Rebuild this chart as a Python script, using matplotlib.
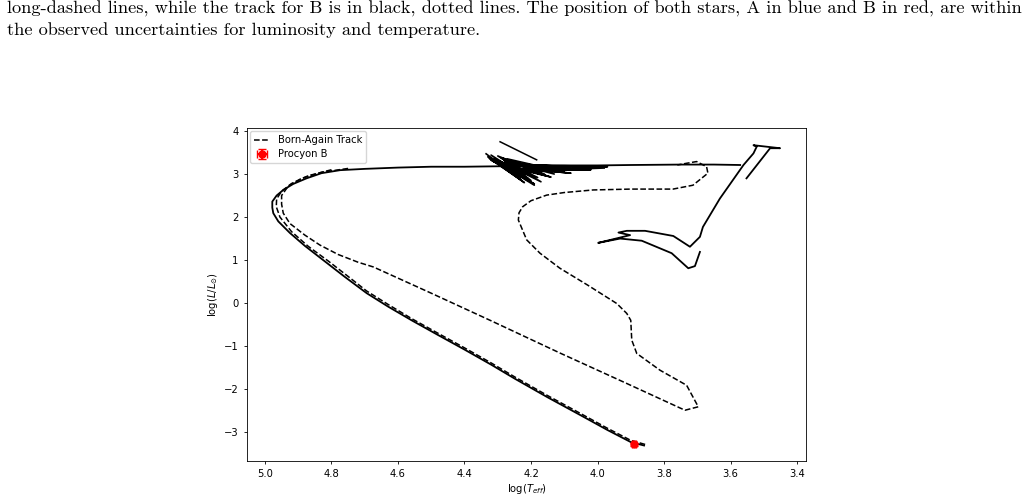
import matplotlib
matplotlib.use("Agg")
import matplotlib.pyplot as plt

# caption lines above the figure
caption_lines = [
    "long-dashed lines, while the track for B is in black, dotted lines. The position of both stars, A in blue and B in red, are within",
    "the observed uncertainties for luminosity and temperature.",
]

# pre-RGB wiggle + red giant branch (looks solid in the original)
rgb_teff = [3.692, 3.707, 3.727, 3.777, 3.867, 3.932, 3.998, 3.902, 3.937, 3.912,
            3.857, 3.772, 3.722, 3.692, 3.683, 3.632, 3.561, 3.531, 3.521, 3.531,
            3.451, 3.481, 3.552]
rgb_lum = [1.19, 0.86, 0.81, 1.16, 1.45, 1.50, 1.40, 1.58, 1.64, 1.68,
           1.68, 1.56, 1.31, 1.54, 1.77, 2.43, 3.21, 3.48, 3.64, 3.67,
           3.60, 3.60, 2.90]

# post-AGB crossing, outer loop and white dwarf cooling track
cool_teff = [3.571, 3.65, 3.75, 3.90, 4.00, 4.10, 4.20, 4.30, 4.40, 4.50, 4.60,
             4.70, 4.774, 4.83, 4.875, 4.915, 4.945, 4.965, 4.978, 4.978, 4.975,
             4.96, 4.925, 4.88, 4.825, 4.76, 4.694, 4.63, 4.559, 4.48, 4.40,
             4.32, 4.248, 4.15, 4.05, 3.97, 3.90, 3.86]
cool_lum = [3.21, 3.22, 3.22, 3.21, 3.20, 3.20, 3.19, 3.18, 3.17, 3.17, 3.15,
            3.12, 3.09, 3.02, 2.90, 2.77, 2.63, 2.50, 2.36, 2.22, 2.09,
            1.90, 1.63, 1.33, 1.00, 0.61, 0.23, -0.08, -0.40, -0.74, -1.08,
            -1.43, -1.76, -2.19, -2.61, -2.95, -3.23, -3.31]

# dense born-again cluster near log Teff ~ 4.2
clump_teff = [4.335, 4.22, 4.33, 4.19, 4.32, 4.21, 4.31, 4.17, 4.30, 4.15, 4.32,
              4.20, 4.29, 4.13, 4.28, 4.18, 4.31, 4.10, 4.27, 4.16, 4.26, 4.05,
              4.30, 4.00, 4.24, 3.97, 4.29, 4.19, 4.325, 4.23, 4.28, 4.205,
              4.315, 4.14, 4.26, 4.08, 4.22, 4.02, 4.18, 3.98]
clump_lum = [3.47, 2.80, 3.40, 2.74, 3.44, 2.90, 3.36, 2.82, 3.42, 2.95, 3.32,
             2.85, 3.38, 3.00, 3.30, 2.92, 3.28, 3.05, 3.35, 3.00, 3.26, 3.10,
             3.24, 3.15, 3.22, 3.17, 3.20, 2.77, 3.36, 2.86, 3.25, 2.98,
             3.30, 2.93, 3.15, 3.02, 3.12, 3.10, 3.08, 3.14]
spike_teff = [4.293, 4.183]
spike_lum = [3.75, 3.33]

# second pass along the cooling track (dashed)
pass2_teff = [4.80, 4.87, 4.92, 4.95, 4.965, 4.966, 4.955, 4.92, 4.87, 4.81,
              4.75, 4.694, 4.63, 4.559, 4.48, 4.40, 4.32, 4.248, 4.15, 4.05,
              3.97, 3.90, 3.85]
pass2_lum = [3.10, 2.96, 2.78, 2.60, 2.42, 2.24, 2.00, 1.66, 1.32, 0.98,
             0.62, 0.28, -0.03, -0.36, -0.70, -1.04, -1.39, -1.72, -2.15, -2.57,
             -2.91, -3.19, -3.30]

# born-again loop (dashed)
loop_teff = [4.75, 4.83, 4.89, 4.93, 4.95, 4.95, 4.945, 4.925, 4.88, 4.835,
             4.78, 4.72, 4.674, 4.50, 4.323, 4.113, 3.92, 3.737, 3.697, 3.732,
             3.812, 3.882, 3.897, 3.90, 3.912, 3.942, 4.03, 4.113, 4.173, 4.213,
             4.238, 4.236, 4.225, 4.20, 4.153, 4.10, 4.013, 3.90, 3.773, 3.713,
             3.668, 3.672, 3.702, 3.732, 3.76]
loop_lum = [3.13, 3.04, 2.90, 2.72, 2.50, 2.30, 2.09, 1.85, 1.58, 1.35,
            1.13, 0.95, 0.84, 0.23, -0.40, -1.16, -1.84, -2.49, -2.41, -1.91,
            -1.56, -1.17, -0.86, -0.40, -0.24, -0.01, 0.42, 0.81, 1.16, 1.47,
            1.93, 2.10, 2.24, 2.38, 2.51, 2.57, 2.63, 2.65, 2.65, 2.74,
            3.02, 3.17, 3.29, 3.25, 3.21]

# Procyon B
star_teff = 3.889
star_lum = -3.28
star_teff_err = 0.006
star_lum_err = 0.03

fig = plt.figure(figsize=(10.34, 5.0), dpi=100)
ax = fig.add_axes([0.2389, 0.078, 0.5406, 0.666])

fs = 7.2
ax.plot(rgb_teff, rgb_lum, color="black", lw=1.3)
ax.plot(cool_teff, cool_lum, color="black", lw=1.3)
ax.plot(clump_teff, clump_lum, color="black", lw=1.2)
ax.plot(spike_teff, spike_lum, color="black", lw=1.1)
ax.plot(pass2_teff, pass2_lum, color="black", ls="--", lw=1.1)
ax.plot(loop_teff, loop_lum, color="black", ls="--", lw=1.1, label="Born-Again Track")
ax.errorbar(star_teff, star_lum, xerr=star_teff_err, yerr=star_lum_err, fmt="o",
            color="red", ms=5, capsize=3, label="Procyon B", zorder=5)

ax.set_xlim(5.054, 3.373)
ax.set_ylim(-3.67, 4.07)
ax.set_xticks([5.0, 4.8, 4.6, 4.4, 4.2, 4.0, 3.8, 3.6, 3.4])
ax.set_yticks([-3, -2, -1, 0, 1, 2, 3, 4])
ax.tick_params(labelsize=fs, length=2.5, width=0.6)
for s in ax.spines.values():
    s.set_linewidth(0.6)
ax.set_xlabel(r"$\log(T_{eff})$", fontsize=fs, labelpad=2)
ax.set_ylabel(r"$\log(L/L_{\odot})$", fontsize=fs, labelpad=3)
ax.legend(loc="upper left", fontsize=fs, handlelength=1.6, borderpad=0.4,
          labelspacing=0.4, borderaxespad=0.3)

fig.text(7 / 1034, 1 - 9 / 500, caption_lines[0], family=["cmr10"], fontsize=13.2,
         va="center", ha="left")
fig.text(7 / 1034, 1 - 30 / 500, caption_lines[1], family=["cmr10"], fontsize=13.2,
         va="center", ha="left")

fig.savefig("out.png", dpi=100)
